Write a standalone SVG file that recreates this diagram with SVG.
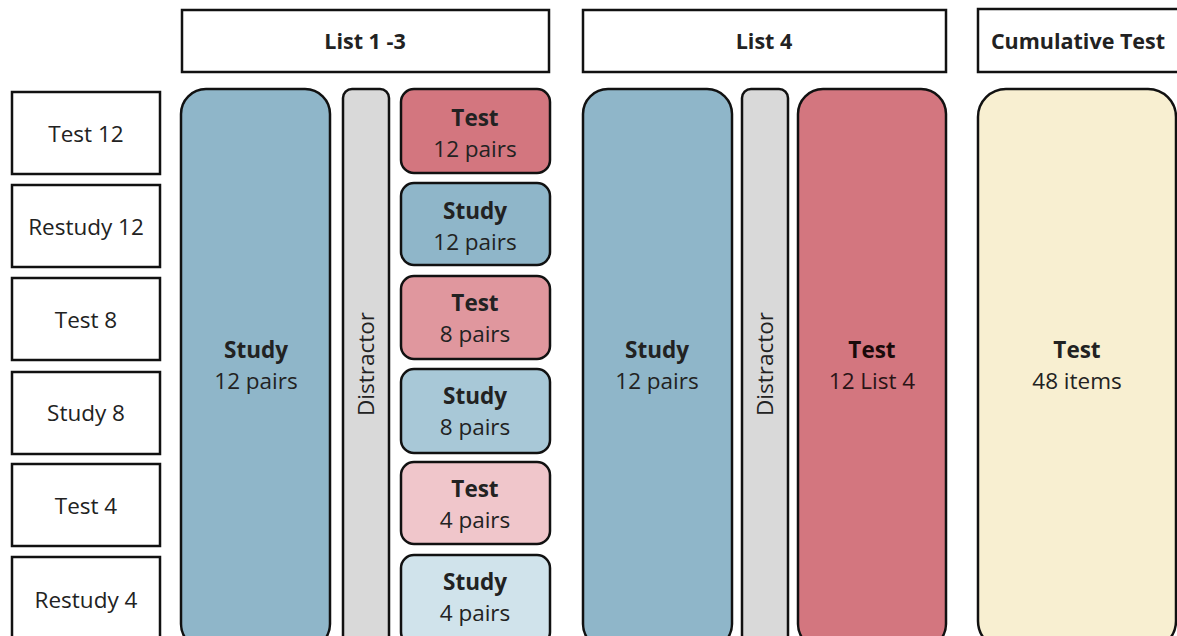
<svg xmlns="http://www.w3.org/2000/svg" width="1177" height="636" viewBox="0 0 1177 636">
<style>
.box{fill:#fff;stroke:#111;stroke-width:2.5}
.r{stroke:#111;stroke-width:2.5}
.t{font-family:"Open Sans","Liberation Sans",sans-serif;font-size:22.5px;fill:#222;text-anchor:middle}
.h{font-size:21.5px}
.b{font-weight:bold}
.study{fill:#8fb6c9}
.test{fill:#d3767f}
.dist{fill:#d9d9d9}
.cum{fill:#f8efd1}
</style>
<rect width="1177" height="636" fill="#fff"/>
<g id="header-list13"><rect class="box" x="182" y="10" width="367" height="62"/><text class="t b h" x="365" y="49">List 1 -3</text></g>
<g id="header-list4"><rect class="box" x="583" y="10" width="363" height="62"/><text class="t b h" x="764" y="49">List 4</text></g>
<g id="header-cum"><rect class="box" x="978" y="9" width="210" height="63"/><text class="t b h" x="1078" y="49">Cumulative Test</text></g>

<g id="label-test12"><rect class="box" x="12" y="92" width="148" height="82"/><text class="t" x="86" y="142">Test 12</text></g>
<g id="label-restudy12"><rect class="box" x="12" y="185" width="148" height="82"/><text class="t" x="86" y="235">Restudy 12</text></g>
<g id="label-test8"><rect class="box" x="12" y="278" width="148" height="82"/><text class="t" x="86" y="328">Test 8</text></g>
<g id="label-study8"><rect class="box" x="12" y="372" width="148" height="82"/><text class="t" x="86" y="421">Study 8</text></g>
<g id="label-test4"><rect class="box" x="12" y="464" width="148" height="82"/><text class="t" x="86" y="514">Test 4</text></g>
<g id="label-restudy4"><rect class="box" x="12" y="557" width="148" height="90"/><text class="t" x="86" y="608">Restudy 4</text></g>

<g id="study-list13"><rect class="r study" x="181" y="89" width="149" height="560" rx="25"/><text class="t b" x="256" y="358">Study</text><text class="t" x="256" y="389">12 pairs</text></g>
<g id="distractor-list13"><rect class="r dist" x="343" y="89" width="46" height="560" rx="9"/><text class="t" transform="translate(374,364) rotate(-90)">Distractor</text></g>

<g id="test12"><rect class="r test" x="401" y="89" width="149" height="84" rx="13"/><text class="t b" x="475" y="126">Test</text><text class="t" x="475" y="157">12 pairs</text></g>
<g id="study12"><rect class="r study" x="401" y="183" width="149" height="82" rx="13"/><text class="t b" x="475" y="219">Study</text><text class="t" x="475" y="250">12 pairs</text></g>
<g id="test8"><rect class="r" fill="#e0979e" x="401" y="276" width="149" height="83" rx="13"/><text class="t b" x="475" y="311">Test</text><text class="t" x="475" y="342">8 pairs</text></g>
<g id="study8"><rect class="r" fill="#a8c8d7" x="401" y="369" width="149" height="84" rx="13"/><text class="t b" x="475" y="404">Study</text><text class="t" x="475" y="435">8 pairs</text></g>
<g id="test4"><rect class="r" fill="#f0c6cb" x="401" y="462" width="149" height="82" rx="13"/><text class="t b" x="475" y="497">Test</text><text class="t" x="475" y="528">4 pairs</text></g>
<g id="study4"><rect class="r" fill="#d0e3eb" x="401" y="555" width="149" height="90" rx="13"/><text class="t b" x="475" y="590">Study</text><text class="t" x="475" y="621">4 pairs</text></g>

<g id="study-list4"><rect class="r study" x="583" y="89" width="149" height="560" rx="25"/><text class="t b" x="657" y="358">Study</text><text class="t" x="657" y="389">12 pairs</text></g>
<g id="distractor-list4"><rect class="r dist" x="742" y="89" width="46" height="560" rx="9"/><text class="t" transform="translate(773,364) rotate(-90)">Distractor</text></g>
<g id="test-list4"><rect class="r test" x="798" y="89" width="148" height="560" rx="25"/><text class="t b" x="872" y="358" style="fill:#1a0a0a">Test</text><text class="t" x="872" y="389" style="fill:#2a1416">12 List 4</text></g>

<g id="cumulative-test"><rect class="r cum" x="978" y="89" width="198" height="560" rx="28"/><text class="t b" x="1077" y="358">Test</text><text class="t" x="1077" y="389">48 items</text></g>
<g id="connectors"></g>
</svg>
